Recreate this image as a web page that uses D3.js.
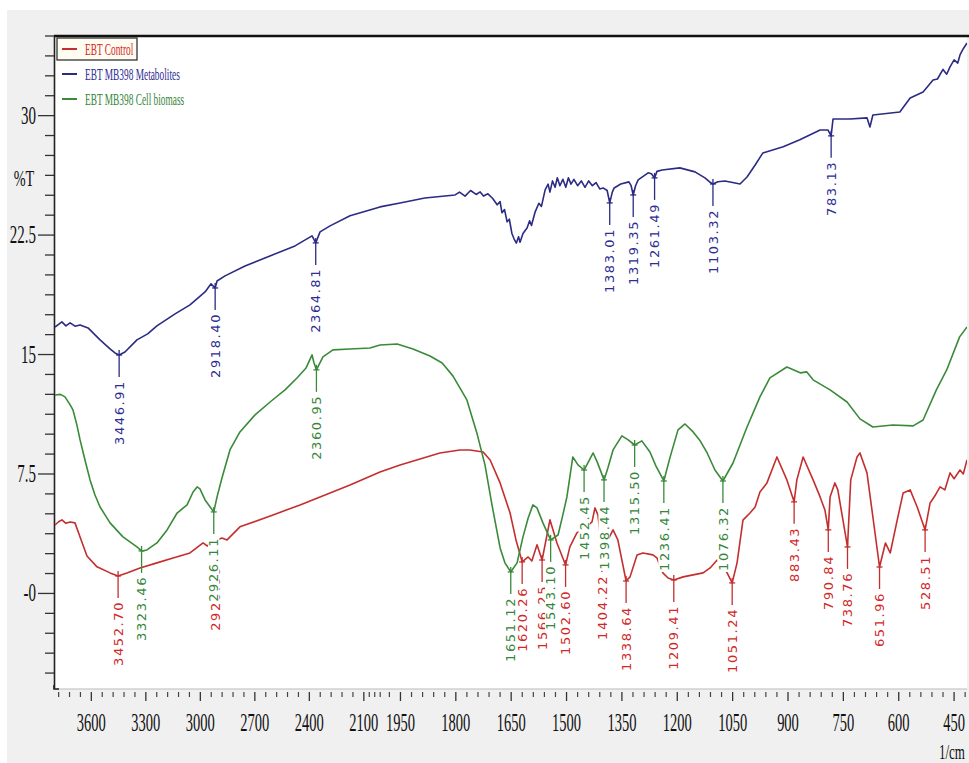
<!DOCTYPE html>
<html>
<head>
<meta charset="utf-8">
<script src="https://cdn.jsdelivr.net/npm/d3@7"></script>
<style>
  body { margin: 0; background: #fff; }
  svg { display: block; }
</style>
</head>
<body>
<svg id="chart" width="969" height="763"></svg>
<script>
// FTIR transmittance spectra, wavenumber (1/cm) vs %T
const seriesNames = ["EBT Control", "EBT MB398 Metabolites", "EBT MB398 Cell biomass"];

const controlSpectrum = [
  [3800,4.30],[3780,4.5],[3762,4.62],[3740,4.4],[3717,4.49],[3690,4.43],[3662,3.55],[3624,2.35],
  [3569,1.67],[3497,1.29],[3452.70,1.10],[3404,1.29],[3332,1.60],[3239,1.92],[3150,2.23],[3057,2.54],
  [2985,3.17],[2963,2.98],[2920.00,3.30],[2881,3.48],[2853,3.36],[2782,4.18],[2600,4.93],[2451,5.56],
  [2176,6.81],[2011,7.63],[1951,8.07],[1843,8.82],[1789,9.01],[1762,9.01],[1726,8.88],[1707,8.38],
  [1680,6.94],[1653,5.05],[1637,3.36],[1620.26,1.98],[1604,2.29],[1594,2.04],[1580,3.05],[1566.25,2.10],
  [1545,4.62],[1526,3.17],[1502.60,1.79],[1491,2.92],[1472,3.80],[1450,4.11],[1431,4.49],[1423,5.37],
  [1415,4.93],[1404.22,2.73],[1388,3.36],[1374,3.99],[1361,3.36],[1338.64,0.78],[1328,1.04],[1309,2.42],
  [1293,2.54],[1266,2.42],[1255,2.23],[1239,1.29],[1225,0.97],[1209.41,0.85],[1184,1.04],[1130,1.29],
  [1111,1.60],[1092,2.10],[1079,1.79],[1065,1.29],[1051.24,0.66],[1038,1.92],[1022,4.60],[1003,5.05],
  [989,5.43],[976,6.37],[957,6.94],[930,8.57],[903,7.13],[883.43,5.75],[876,7.13],[859,8.57],
  [832,7.13],[813,6.06],[800,5.24],[790.84,3.99],[786,6.06],[773,6.94],[765,6.50],[738.76,2.92],
  [730,7.13],[713,8.57],[705,8.82],[686,7.57],[670,4.80],[651.96,1.66],[636,3.17],[623,2.54],
  [604,4.62],[588,6.31],[569,6.50],[550,5.43],[528.51,3.99],[515,5.68],[500,6.2],[488,6.69],
  [475,6.5],[461,7.57],[450,7.2],[434,7.75],[425,7.5],[415,8.38]
];

const metabolitesSpectrum = [
  [3800,16.73],[3762,17.05],[3740,16.80],[3717,16.99],[3690,16.78],[3662,16.86],[3618,16.67],[3585,16.30],
  [3552,15.92],[3497,15.35],[3470,15.10],[3446.91,14.97],[3415,15.16],[3349,15.92],[3290,16.30],[3239,16.80],
  [3139,17.55],[3057,18.12],[2974,18.93],[2941,19.44],[2918.40,19.18],[2908,19.62],[2864,19.94],[2754,20.56],
  [2617,21.19],[2479,21.82],[2385,22.45],[2364.81,22.01],[2341,22.70],[2286,23.08],[2176,23.71],[2011,24.27],
  [1951,24.52],[1884,24.83],[1802,25.02],[1790,25.2],[1775,24.95],[1760,25.3],[1745,25.05],[1734,25.21],
  [1725,24.95],[1713,25.09],[1700,24.8],[1688,24.40],[1680,24.6],[1675,23.9],[1668,24.1],[1661,23.33],
  [1655,23.5],[1648,22.6],[1642,22.25],[1636,22.0],[1630,22.4],[1626,22.05],[1618,22.6],[1607,22.95],
  [1600,23.4],[1595,23.1],[1585,23.96],[1575,24.5],[1568,24.3],[1558,25.34],[1550,25.7],[1545,25.2],
  [1538,25.9],[1531,25.5],[1525,26.1],[1518,25.6],[1510,26.0],[1502,25.5],[1495,26.1],[1488,25.7],
  [1480,26.0],[1470,25.6],[1460,25.9],[1450,25.5],[1440,25.9],[1430,25.6],[1420,25.8],[1410,25.4],
  [1401,25.46],[1390,25.3],[1383.01,24.52],[1376,25.2],[1371,25.46],[1353,25.71],[1331,25.84],[1325,25.6],
  [1319.35,25.02],[1313,25.6],[1306,25.97],[1279,26.41],[1270,26.35],[1261.49,26.09],[1255,26.5],[1241,26.59],
  [1193,26.72],[1152,26.47],[1125,26.09],[1110,25.8],[1103.32,25.71],[1090,25.85],[1071,25.90],[1050,25.8],
  [1030,25.71],[1011,26.15],[989,26.90],[968,27.66],[913,28.04],[868,28.48],[813,29.10],[792,29.10],
  [783.13,28.73],[778,29.79],[732,29.79],[686,29.86],[678,29.29],[670,30.04],[597,30.23],[569,31.11],
  [534,31.49],[507,32.24],[495,32.3],[480,32.9],[470,32.6],[461,33.06],[450,33.5],[440,33.3],
  [434,33.81],[425,34.2],[415,34.56]
];

const biomassSpectrum = [
  [3800,12.46],[3770,12.5],[3745,12.34],[3720,11.9],[3701,11.52],[3680,10.6],[3662,9.64],[3635,8.38],
  [3607,7.13],[3580,6.18],[3552,5.43],[3497,4.43],[3426,3.55],[3349,2.92],[3323.46,2.67],[3294,2.73],
  [3239,3.17],[3183,3.99],[3128,5.05],[3073,5.56],[3040,6.37],[3018,6.69],[3002,6.56],[2974,5.87],
  [2926.11,5.12],[2908,6.06],[2881,7.25],[2837,9.01],[2782,10.14],[2699,11.21],[2616,12.02],[2534,12.78],
  [2468,13.53],[2418,14.16],[2385,14.98],[2375,14.5],[2360.95,14.04],[2325,14.85],[2270,15.29],[2176,15.35],
  [2066,15.41],[2011,15.60],[1959,15.66],[1916,15.35],[1870,14.91],[1837,14.47],[1808,13.66],[1770,12.15],
  [1743,10.08],[1721,8.07],[1702,5.56],[1680,2.86],[1667,1.92],[1651.12,1.35],[1634,1.92],[1618,3.55],
  [1604,4.74],[1591,5.56],[1580,5.37],[1564,4.43],[1543.10,3.36],[1523,3.67],[1510,4.93],[1499,6.06],
  [1483,8.57],[1469,8.07],[1452.45,7.75],[1428,8.82],[1417,8.26],[1398.44,7.13],[1388,7.88],[1374,9.01],
  [1350,9.89],[1333,9.64],[1315.50,9.32],[1296,9.58],[1274,8.88],[1258,8.01],[1236.41,7.06],[1220,8.51],
  [1198,10.27],[1179,10.64],[1157,10.14],[1138,9.58],[1119,8.82],[1098,7.75],[1076.32,7.06],[1049,8.19],
  [1030,9.32],[1011,10.45],[976,12.34],[949,13.53],[903,14.22],[867,13.85],[849,13.91],[832,13.41],
  [786,12.78],[740,12.02],[705,10.96],[670,10.45],[616,10.58],[561,10.52],[534,10.89],[498,12.78],
  [470,14.03],[435,16.11],[415,16.73]
];

// Peak picks, one list per spectrum
const controlPeaks = ["3452.70","2920.00","1620.26","1566.25","1502.60","1404.22","1338.64",
  "1209.41","1051.24","883.43","790.84","738.76","651.96","528.51"];
const metabolitesPeaks = ["3446.91","2918.40","2364.81","1383.01","1319.35","1261.49","1103.32","783.13"];
const biomassPeaks = ["3323.46","2926.11","2360.95","1651.12","1543.10","1452.45","1398.44",
  "1315.50","1236.41","1076.32"];

const xTickValues = [3600,3300,3000,2700,2400,2100,1950,1800,1650,1500,1350,1200,1050,900,750,600,450];
const yTickValues = [30, 22.5, 15, 7.5, 0];
const yTickLabels = ["30", "22.5", "15", "7.5", "-0"];

// ---------------------------------------------------------------
const W = 969, H = 763;
const plot = { left: 55, right: 967, top: 36, bottom: 689 };
const COLORS = { control: "#c42e2e", metab: "#2b2b84", biomass: "#3a8a3a" };
const TEXTCOL = { control: "#d02828", metab: "#2d2d92", biomass: "#35863a" };
const SERIF = "'Liberation Serif', 'Times New Roman', serif";

// wavenumber axis is expanded below 2000 1/cm
const x = d3.scaleLinear().domain([3800, 2000, 415]).range([plot.left, 382, plot.right]);
const y = d3.scaleLinear().domain([-6, 35]).range([plot.bottom, plot.top]);

const svg = d3.select("#chart");

svg.append("rect").attr("x", 7).attr("y", 10).attr("width", W - 7).attr("height", H - 10).attr("fill", "#f0f0f0");
svg.append("rect").attr("x", plot.left).attr("y", plot.top)
  .attr("width", plot.right - plot.left).attr("height", plot.bottom - plot.top).attr("fill", "#fff");

svg.append("defs").append("clipPath").attr("id", "plotClip")
  .append("rect").attr("x", plot.left).attr("y", plot.top)
  .attr("width", plot.right - plot.left).attr("height", plot.bottom - plot.top);

// compressed serif text helper
function serifText(sel, tx, ty, str, size, anchor, sx) {
  return sel.append("text")
    .attr("transform", `translate(${tx},${ty}) scale(${sx},1)`)
    .attr("text-anchor", anchor)
    .attr("font-family", SERIF)
    .attr("font-size", size)
    .attr("fill", "#111")
    .text(str);
}

// ---- y axis ----
const yAxis = svg.append("g");
const yMinor = d3.range(-5, 35.01, 1.25).filter(v => !yTickValues.some(t => Math.abs(t - v) < 1e-6));
yAxis.selectAll("line.minor").data(yMinor).join("line")
  .attr("x1", 45).attr("x2", plot.left).attr("y1", d => y(d)).attr("y2", d => y(d))
  .attr("stroke", "#333").attr("stroke-width", 1.3);
yAxis.selectAll("line.major").data(yTickValues).join("line")
  .attr("x1", 38).attr("x2", plot.left).attr("y1", d => y(d)).attr("y2", d => y(d))
  .attr("stroke", "#333").attr("stroke-width", 1.3);
yTickValues.forEach((v, i) => serifText(yAxis, 36, y(v) + 8, yTickLabels[i], 25, "end", 0.6));
serifText(svg, 24, 186, "%T", 23, "middle", 0.62);

// ---- x axis ----
const xAxis = svg.append("g");
const xMinor = d3.range(3780, 2100, -60).concat([2070, 2040, 2010], d3.range(1980, 414, -30))
  .filter(v => !xTickValues.includes(v));
xAxis.selectAll("line.minor").data(xMinor).join("line")
  .attr("x1", d => x(d)).attr("x2", d => x(d)).attr("y1", 692).attr("y2", 697)
  .attr("stroke", "#444").attr("stroke-width", 1.2);
xAxis.selectAll("line.major").data(xTickValues).join("line")
  .attr("x1", d => x(d)).attr("x2", d => x(d)).attr("y1", 692).attr("y2", 701)
  .attr("stroke", "#333").attr("stroke-width", 1.3);
xTickValues.forEach(v => serifText(xAxis, x(v), 731, String(v), 25, "middle", 0.58));
serifText(svg, 965, 759, "1/cm", 21, "end", 0.62);

// ---- frame ----
svg.append("line").attr("x1", plot.left - 1).attr("x2", W).attr("y1", plot.top).attr("y2", plot.top)
  .attr("stroke", "#111").attr("stroke-width", 2.5);
svg.append("line").attr("x1", plot.left - 0.5).attr("x2", plot.left - 0.5).attr("y1", plot.top).attr("y2", plot.bottom)
  .attr("stroke", "#222").attr("stroke-width", 1.6);
svg.append("line").attr("x1", plot.left).attr("x2", plot.right).attr("y1", plot.bottom).attr("y2", plot.bottom)
  .attr("stroke", "#bbb").attr("stroke-width", 1);
svg.append("path").attr("d", `M${plot.left - 1},${plot.bottom - 4} V${plot.bottom} H${plot.left + 4}`)
  .attr("fill", "none").attr("stroke", "#222").attr("stroke-width", 1.6);

// ---- spectra ----
const line = d3.line().x(d => x(d[0])).y(d => y(d[1]));
const curves = svg.append("g").attr("clip-path", "url(#plotClip)");
[[controlSpectrum, COLORS.control], [metabolitesSpectrum, COLORS.metab], [biomassSpectrum, COLORS.biomass]]
  .forEach(([data, col]) => {
    curves.append("path").datum(data).attr("d", line)
      .attr("fill", "none").attr("stroke", col).attr("stroke-width", 1.6)
      .attr("stroke-linejoin", "round");
  });

// value of a spectrum at a given wavenumber (data sorted by descending wavenumber)
function valueAt(data, wn) {
  for (let i = 0; i < data.length - 1; i++) {
    const [w0, t0] = data[i], [w1, t1] = data[i + 1];
    if (wn <= w0 && wn >= w1) return t0 + (t1 - t0) * (w0 - wn) / (w0 - w1);
  }
  return data[data.length - 1][1];
}

// ---- peak labels ----
const labels = svg.append("g");
function drawPeaks(peaks, data, col, textCol) {
  peaks.forEach(p => {
    const wn = +p;
    const px = x(wn), py = y(valueAt(data, wn));
    const g = labels.append("g");
    const tf = `translate(${px},${py + 25}) rotate(-90)`;
    const bg = g.append("rect");
    const t = g.append("text")
      .attr("transform", tf)
      .attr("text-anchor", "end")
      .attr("dy", "0.36em")
      .attr("font-family", "'DejaVu Sans', Verdana, sans-serif")
      .attr("font-size", 13)
      .attr("letter-spacing", 1.6)
      .attr("fill", textCol)
      .text(p);
    const bb = t.node().getBBox();
    bg.attr("transform", tf).attr("x", bb.x - 1).attr("width", bb.width + 2)
      .attr("y", -5.6).attr("height", 11.2).attr("fill", "#fff");
    g.append("line").attr("x1", px).attr("x2", px).attr("y1", py - 5).attr("y2", py + 22)
      .attr("stroke", col).attr("stroke-width", 1.3);
    g.append("line").attr("x1", px - 3).attr("x2", px + 3).attr("y1", py).attr("y2", py)
      .attr("stroke", col).attr("stroke-width", 1.3);
  });
}
drawPeaks(controlPeaks, controlSpectrum, COLORS.control, TEXTCOL.control);
drawPeaks(metabolitesPeaks, metabolitesSpectrum, COLORS.metab, TEXTCOL.metab);
drawPeaks(biomassPeaks, biomassSpectrum, COLORS.biomass, TEXTCOL.biomass);

// ---- legend ----
const legend = svg.append("g");
legend.append("rect").attr("x", 57).attr("y", 38).attr("width", 80).attr("height", 22)
  .attr("fill", "#fffdf2").attr("stroke", "#222").attr("stroke-width", 1.2);
const legendCols = [COLORS.control, COLORS.metab, COLORS.biomass];
const legendText = [TEXTCOL.control, TEXTCOL.metab, TEXTCOL.biomass];
seriesNames.forEach((name, i) => {
  const cy = 49 + i * 25;
  legend.append("line").attr("x1", 62).attr("x2", 77).attr("y1", cy).attr("y2", cy)
    .attr("stroke", legendCols[i]).attr("stroke-width", 2);
  serifText(legend, 85, cy + 6, name, 17, "start", 0.55).attr("fill", legendText[i]);
});
</script>
</body>
</html>
